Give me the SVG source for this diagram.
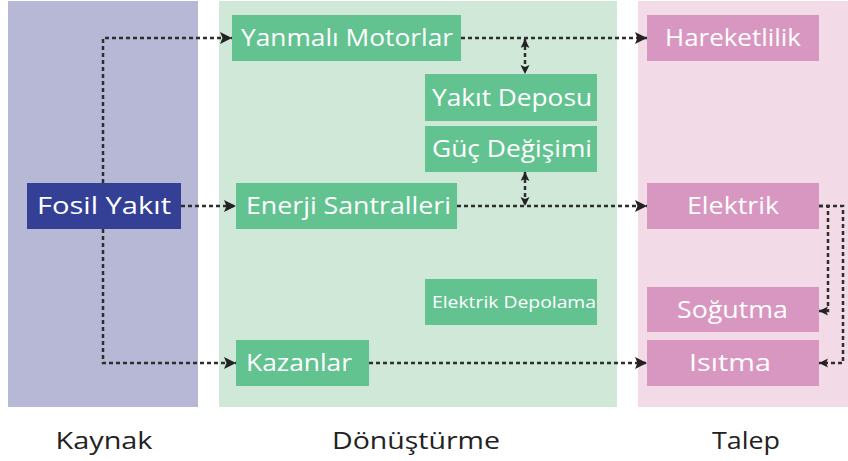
<svg xmlns="http://www.w3.org/2000/svg" width="848" height="461" viewBox="0 0 848 461">
  <style>
    .lbl { font-family: "Open Sans", "DejaVu Sans", sans-serif; font-weight: 500; fill: #ffffff; font-size: 24px; }
    .small { font-size: 17px; }
    .col { font-family: "Open Sans", "DejaVu Sans", sans-serif; font-weight: 500; fill: #222222; font-size: 24px; text-anchor: middle; }
    .green { fill: #62c391; }
    .pink { fill: #d897c1; }
    .conn { fill: none; stroke: #2e2e2e; stroke-width: 2.5; stroke-dasharray: 4 3; }
  </style>
  <defs>
    <marker id="arr" markerUnits="userSpaceOnUse" markerWidth="14" markerHeight="14" refX="12" refY="6" orient="auto">
      <path d="M0,0 L12,6 L0,12 L2.5,6 z" fill="#222"/>
    </marker>
    <marker id="arrs" markerUnits="userSpaceOnUse" markerWidth="10" markerHeight="10" refX="9" refY="4.5" orient="auto-start-reverse">
      <path d="M0,0 L9,4.5 L0,9 L2,4.5 z" fill="#222"/>
    </marker>
  </defs>

  <g id="columns">
    <rect x="8" y="1" width="190" height="406" fill="#b7b7d6"/>
    <rect x="219" y="1" width="398" height="406" fill="#cfe8d8"/>
    <rect x="638" y="1" width="210" height="406" fill="#f2dae7"/>
    <text class="col" x="104" y="449" textLength="97" lengthAdjust="spacingAndGlyphs">Kaynak</text>
    <text class="col" x="416" y="449" textLength="168" lengthAdjust="spacingAndGlyphs">Dönüştürme</text>
    <text class="col" x="746" y="449" textLength="68" lengthAdjust="spacingAndGlyphs">Talep</text>
  </g>

  <g id="connectors">
    <path class="conn" d="M103,183 V38 H232" marker-end="url(#arr)"/>
    <path class="conn" d="M181,206 H236" marker-end="url(#arr)"/>
    <path class="conn" d="M103,229 V363 H236" marker-end="url(#arr)"/>
    <path class="conn" d="M461,38 H647" marker-end="url(#arr)"/>
    <path class="conn" d="M457,206 H647" marker-end="url(#arr)"/>
    <path class="conn" d="M369,363 H647" marker-end="url(#arr)"/>
    <path class="conn" d="M525,39 V74" marker-start="url(#arrs)" marker-end="url(#arrs)"/>
    <path class="conn" d="M525,172 V206" marker-start="url(#arrs)" marker-end="url(#arrs)"/>
    <path class="conn" d="M819,206 H828 V311 H819" marker-end="url(#arrs)"/>
    <path class="conn" d="M819,206 H843 V363 H819" marker-end="url(#arrs)"/>
  </g>

  <g id="fosil">
    <rect x="27" y="183" width="154" height="46" fill="#343f96"/>
    <text class="lbl" x="37" y="214" textLength="134" lengthAdjust="spacingAndGlyphs">Fosil Yakıt</text>
  </g>
  <g id="yanmali">
    <rect class="green" x="232" y="15" width="229" height="46"/>
    <text class="lbl" x="241" y="46" textLength="212" lengthAdjust="spacingAndGlyphs">Yanmalı Motorlar</text>
  </g>
  <g id="yakit-deposu">
    <rect class="green" x="425" y="74" width="172" height="47"/>
    <text class="lbl" x="432" y="106" textLength="160" lengthAdjust="spacingAndGlyphs">Yakıt Deposu</text>
  </g>
  <g id="guc-degisimi">
    <rect class="green" x="425" y="126" width="172" height="46"/>
    <text class="lbl" x="432" y="157" textLength="160" lengthAdjust="spacingAndGlyphs">Güç Değişimi</text>
  </g>
  <g id="enerji">
    <rect class="green" x="236" y="183" width="221" height="46"/>
    <text class="lbl" x="246" y="214" textLength="205" lengthAdjust="spacingAndGlyphs">Enerji Santralleri</text>
  </g>
  <g id="elektrik-depolama">
    <rect class="green" x="425" y="279" width="172" height="46"/>
    <text class="lbl small" x="432" y="308" textLength="164" lengthAdjust="spacingAndGlyphs">Elektrik Depolama</text>
  </g>
  <g id="kazanlar">
    <rect class="green" x="236" y="340" width="133" height="46"/>
    <text class="lbl" x="246" y="371" textLength="106" lengthAdjust="spacingAndGlyphs">Kazanlar</text>
  </g>
  <g id="hareketlilik">
    <rect class="pink" x="647" y="15" width="172" height="46"/>
    <text class="lbl" x="665" y="46" textLength="136" lengthAdjust="spacingAndGlyphs">Hareketlilik</text>
  </g>
  <g id="elektrik">
    <rect class="pink" x="647" y="183" width="172" height="46"/>
    <text class="lbl" x="687" y="214" textLength="92" lengthAdjust="spacingAndGlyphs">Elektrik</text>
  </g>
  <g id="sogutma">
    <rect class="pink" x="647" y="287" width="172" height="45"/>
    <text class="lbl" x="677" y="318" textLength="111" lengthAdjust="spacingAndGlyphs">Soğutma</text>
  </g>
  <g id="isitma">
    <rect class="pink" x="647" y="340" width="172" height="46"/>
    <text class="lbl" x="689" y="371" textLength="82" lengthAdjust="spacingAndGlyphs">Isıtma</text>
  </g>
</svg>
